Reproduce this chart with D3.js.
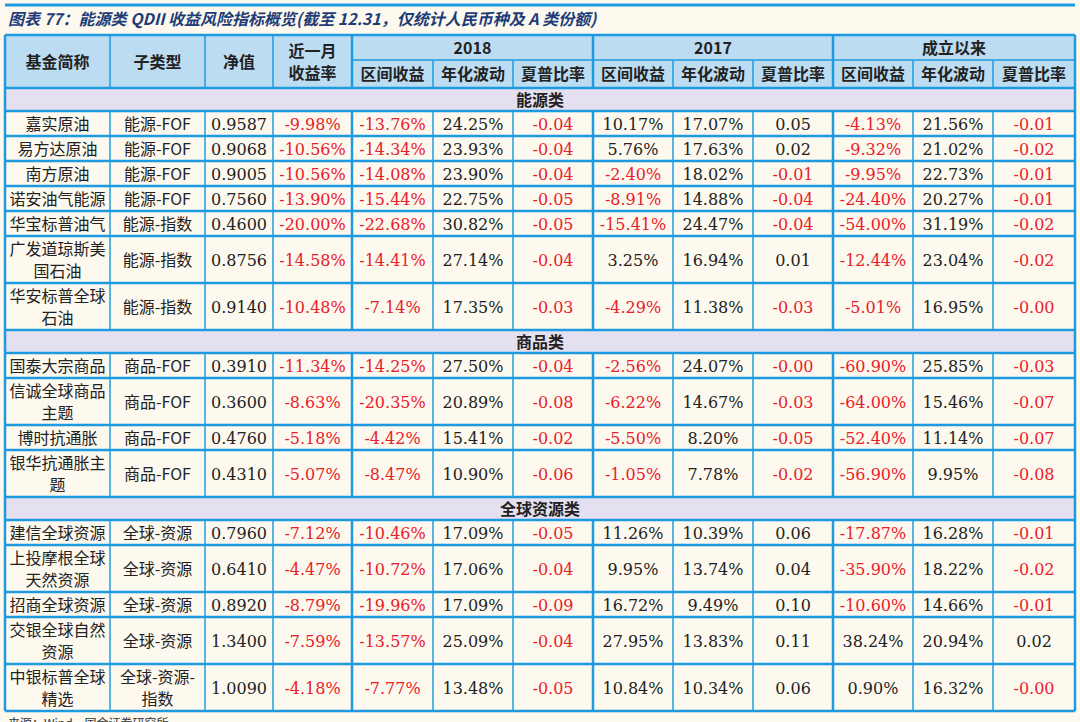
<!DOCTYPE html>
<html><head><meta charset="utf-8">
<script src="https://cdn.jsdelivr.net/npm/d3@7/dist/d3.min.js"></script>
<style>body{margin:0;background:#fdf9ef;}</style>
</head><body>
<svg id="t" width="1080" height="722"></svg>
<script>
"use strict";

var sections = ["能源类", "商品类", "全球资源类"];
var names = [["嘉实原油"], ["易方达原油"], ["南方原油"], ["诺安油气能源"], ["华宝标普油气"], ["广发道琼斯美", "国石油"], ["华安标普全球", "石油"],
  ["国泰大宗商品"], ["信诚全球商品", "主题"], ["博时抗通胀"], ["银华抗通胀主", "题"],
  ["建信全球资源"], ["上投摩根全球", "天然资源"], ["招商全球资源"], ["交银全球自然", "资源"], ["中银标普全球", "精选"]];
var sectionOf = [0,0,0,0,0,0,0,1,1,1,1,2,2,2,2,2];
var subTypes = [["能源-FOF"],["能源-FOF"],["能源-FOF"],["能源-FOF"],["能源-指数"],["能源-指数"],["能源-指数"],
  ["商品-FOF"],["商品-FOF"],["商品-FOF"],["商品-FOF"],
  ["全球-资源"],["全球-资源"],["全球-资源"],["全球-资源"],["全球-资源-","指数"]];
var nav = ["0.9587","0.9068","0.9005","0.7560","0.4600","0.8756","0.9140","0.3910","0.3600","0.4760","0.4310","0.7960","0.6410","0.8920","1.3400","1.0090"];
var month = ["-9.98%","-10.56%","-10.56%","-13.90%","-20.00%","-14.58%","-10.48%","-11.34%","-8.63%","-5.18%","-5.07%","-7.12%","-4.47%","-8.79%","-7.59%","-4.18%"];
var ret18 = ["-13.76%","-14.34%","-14.08%","-15.44%","-22.68%","-14.41%","-7.14%","-14.25%","-20.35%","-4.42%","-8.47%","-10.46%","-10.72%","-19.96%","-13.57%","-7.77%"];
var vol18 = ["24.25%","23.93%","23.90%","22.75%","30.82%","27.14%","17.35%","27.50%","20.89%","15.41%","10.90%","17.09%","17.06%","17.09%","25.09%","13.48%"];
var shp18 = ["-0.04","-0.04","-0.04","-0.05","-0.05","-0.04","-0.03","-0.04","-0.08","-0.02","-0.06","-0.05","-0.04","-0.09","-0.04","-0.05"];
var ret17 = ["10.17%","5.76%","-2.40%","-8.91%","-15.41%","3.25%","-4.29%","-2.56%","-6.22%","-5.50%","-1.05%","11.26%","9.95%","16.72%","27.95%","10.84%"];
var vol17 = ["17.07%","17.63%","18.02%","14.88%","24.47%","16.94%","11.38%","24.07%","14.67%","8.20%","7.78%","10.39%","13.74%","9.49%","13.83%","10.34%"];
var shp17 = ["0.05","0.02","-0.01","-0.04","-0.04","0.01","-0.03","-0.00","-0.03","-0.05","-0.02","0.06","0.04","0.10","0.11","0.06"];
var retAll = ["-4.13%","-9.32%","-9.95%","-24.40%","-54.00%","-12.44%","-5.01%","-60.90%","-64.00%","-52.40%","-56.90%","-17.87%","-35.90%","-10.60%","38.24%","0.90%"];
var volAll = ["21.56%","21.02%","22.73%","20.27%","31.19%","23.04%","16.95%","25.85%","15.46%","11.14%","9.95%","16.28%","18.22%","14.66%","20.94%","16.32%"];
var shpAll = ["-0.01","-0.02","-0.01","-0.01","-0.02","-0.02","-0.00","-0.03","-0.07","-0.07","-0.08","-0.01","-0.02","-0.01","0.02","-0.00"];
var groups = ["2018", "2017", "成立以来"];
var subHeads = ["区间收益", "年化波动", "夏普比率"];

var svg = d3.select("#t");
var blue = "#1e9be0", red = "#e8202a", ink = "#222";
var font = "'Noto Sans CJK SC', sans-serif";
var mono = "'DejaVu Serif', 'Noto Sans CJK SC', serif";

var colX = [5, 110, 205, 273, 352, 433, 513, 593, 673, 753, 833, 913, 993, 1075];

// row heights: single line 25, double 47
var rows = [];
var y = 88;
sectionOf.forEach(function(s, i) {
  if (i === 0 || sectionOf[i - 1] !== s) { rows.push({type: "sec", s: s, y: y, h: 23}); y += 23; }
  var h = names[i].length > 1 || subTypes[i].length > 1 ? 47 : 25;
  rows.push({type: "row", i: i, y: y, h: h});
  y += h;
});
var bottom = y;

// title
svg.append("line").attr("x1", 5).attr("x2", 1075).attr("y1", 5).attr("y2", 5).attr("stroke", blue).attr("stroke-width", 3);
svg.append("text").attr("x", 8).attr("y", 25).attr("font-family", font).attr("font-size", 16)
  .attr("font-weight", "bold").attr("font-style", "italic").attr("fill", "#1d3c78")
  .text("图表 77：能源类 QDII 收益风险指标概览(截至 12.31，仅统计人民币种及 A 类份额)");

// header background
svg.append("rect").attr("x", 5).attr("y", 35).attr("width", 1070).attr("height", 53).attr("fill", "#bcdcf2");
rows.filter(function(r) { return r.type === "sec"; }).forEach(function(r) {
  svg.append("rect").attr("x", 5).attr("y", r.y).attr("width", 1070).attr("height", r.h).attr("fill", "#e4e0ef");
  svg.append("text").attr("x", 540).attr("y", r.y + r.h / 2 + 6).attr("text-anchor", "middle")
    .attr("font-family", font).attr("font-size", 16).attr("font-weight", "bold").attr("fill", ink).text(sections[r.s]);
});

function cellText(x0, x1, yTop, h, lines, color, f, bold) {
  var n = lines.length, lh = 22;
  lines.forEach(function(t, k) {
    svg.append("text").attr("x", (x0 + x1) / 2).attr("y", yTop + h / 2 + (k - (n - 1) / 2) * lh + 6)
      .attr("text-anchor", "middle").attr("font-family", f).attr("font-size", 16)
      .attr("font-weight", bold ? "bold" : "normal").attr("fill", color).text(t);
  });
}

// headers
var hMain = ["基金简称", "子类型", "净值"];
hMain.forEach(function(t, c) { cellText(colX[c], colX[c + 1], 35, 53, [t], ink, font, true); });
cellText(colX[3], colX[4], 35, 53, ["近一月", "收益率"], ink, font, true);
groups.forEach(function(g, k) {
  cellText(colX[4 + 3 * k], colX[7 + 3 * k], 35, 25, [g], ink, font, true);
  subHeads.forEach(function(s, j) { cellText(colX[4 + 3 * k + j], colX[5 + 3 * k + j], 60, 28, [s], ink, font, true); });
});

// body
var cols = [nav, month, ret18, vol18, shp18, ret17, vol17, shp17, retAll, volAll, shpAll];
rows.filter(function(r) { return r.type === "row"; }).forEach(function(r) {
  var i = r.i;
  cellText(colX[0], colX[1], r.y, r.h, names[i], ink, font, false);
  cellText(colX[1], colX[2], r.y, r.h, subTypes[i], ink, font, false);
  cols.forEach(function(arr, c) {
    var v = arr[i];
    cellText(colX[c + 2], colX[c + 3], r.y, r.h, [v], v.charAt(0) === "-" ? red : ink, mono, false);
  });
});

// grid lines
var g = svg.append("g").attr("stroke", blue);
var hy = [35, 88].concat(rows.map(function(r) { return r.y + r.h; }));
hy.forEach(function(v) { g.append("line").attr("x1", 5).attr("x2", 1075).attr("y1", v).attr("y2", v).attr("stroke-width", 2.5); });
g.append("line").attr("x1", colX[4]).attr("x2", 1075).attr("y1", 60).attr("y2", 60).attr("stroke-width", 1.5);
function vlines(y0, y1, xs) {
  xs.forEach(function(x) {
    var thick = x === 5 || x === 1075 || x === 593 || x === 833 || x === 352;
    g.append("line").attr("x1", x).attr("x2", x).attr("y1", y0).attr("y2", y1).attr("stroke-width", thick ? 2.5 : 1.5);
  });
}
vlines(35, 60, [5, 110, 205, 273, 352, 593, 833, 1075]);
vlines(60, 88, colX);
rows.filter(function(r) { return r.type === "row"; }).forEach(function(r) { vlines(r.y, r.y + r.h, colX); });
[5, 1075].forEach(function(x) {
  rows.filter(function(r) { return r.type === "sec"; }).forEach(function(r) {
    g.append("line").attr("x1", x).attr("x2", x).attr("y1", r.y).attr("y2", r.y + r.h).attr("stroke-width", 2.5);
  });
});

svg.append("text").attr("x", 8).attr("y", bottom + 17).attr("font-family", font).attr("font-size", 12)
  .attr("fill", "#333").text("来源：Wind，国金证券研究所");
</script>
</body></html>
